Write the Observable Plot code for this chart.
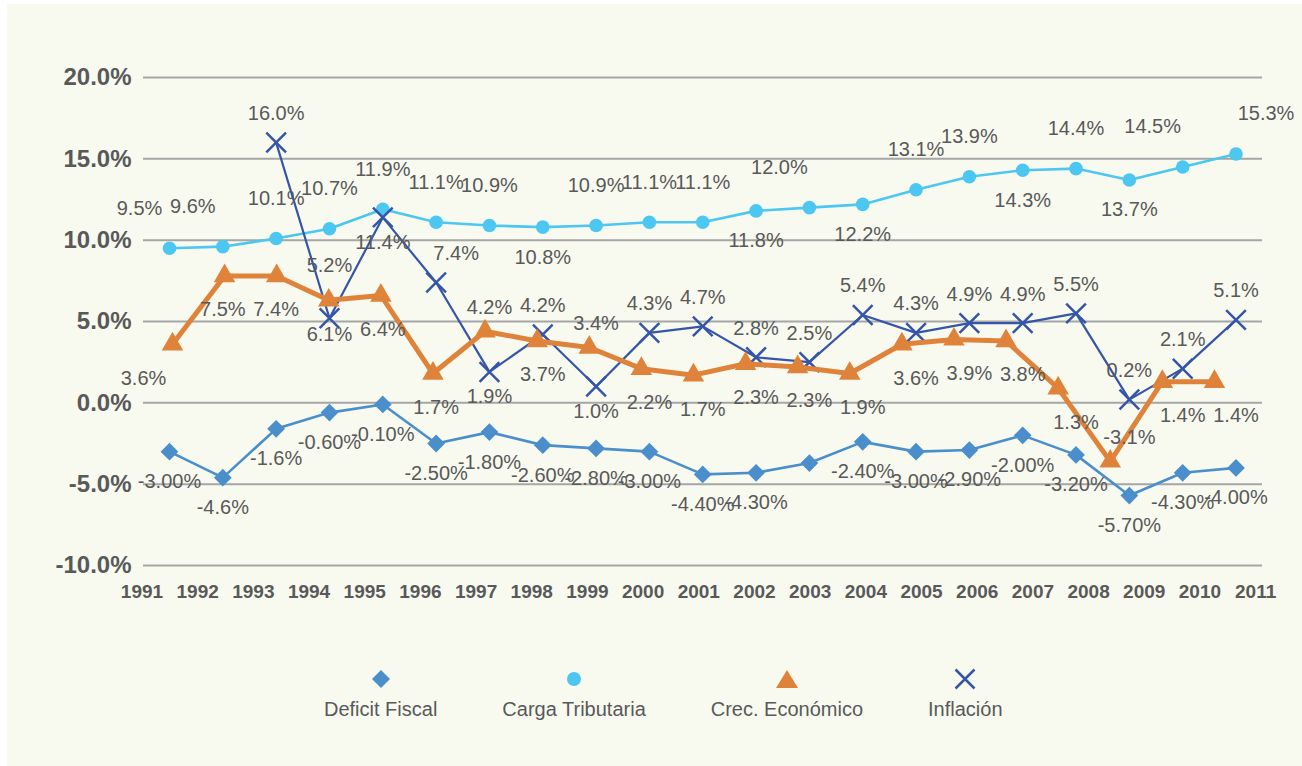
<!DOCTYPE html>
<html>
<head>
<meta charset="utf-8">
<script src="https://cdn.jsdelivr.net/npm/d3@7"></script>
<script src="https://cdn.jsdelivr.net/npm/@observablehq/plot@0.6"></script>
<style>
  html, body { margin: 0; padding: 0; background: #ffffff; }
  #bg { position: absolute; left: 7px; top: 4px; width: 1295px; height: 762px; background: #f8faf0; }
  #chart { position: absolute; left: 0; top: 0; }
  #legend { position: absolute; left: 324px; top: 666px; display: flex; gap: 65px;
            font-family: "Liberation Sans", Arial, sans-serif; font-size: 20px; color: #595959; }
  .item { display: flex; flex-direction: column; align-items: center; }
  .item svg { display: block; }
  .item span { display: block; margin-top: 5px; line-height: 24px; white-space: nowrap; }
</style>
</head>
<body>
<div id="bg"></div>
<div id="chart"></div>
<div id="legend"></div>
<script>
// ---------------- data ----------------
const yearLabels = ["1991","1992","1993","1994","1995","1996","1997","1998","1999","2000",
                    "2001","2002","2003","2004","2005","2006","2007","2008","2009","2010","2011"];
const yTicks = [-10, -5, 0, 5, 10, 15, 20];
const seriesNames = ["Deficit Fiscal", "Carga Tributaria", "Crec. Económico", "Inflación"];

const deficitFiscal = [-3.0, -4.6, -1.6, -0.6, -0.1, -2.5, -1.8, -2.6, -2.8, -3.0,
                       -4.4, -4.3, -3.7, -2.4, -3.0, -2.9, -2.0, -3.2, -5.7, -4.3, -4.0];
const deficitLabels = ["-3.00%","-4.6%","-1.6%","-0.60%","-0.10%","-2.50%","-1.80%","-2.60%","-2.80%","-3.00%",
                       "-4.40%","-4.30%","","-2.40%","-3.00%","-2.90%","-2.00%","-3.20%","-5.70%","-4.30%","-4.00%"];

const cargaTributaria = [9.5, 9.6, 10.1, 10.7, 11.9, 11.1, 10.9, 10.8, 10.9, 11.1,
                         11.1, 11.8, 12.0, 12.2, 13.1, 13.9, 14.3, 14.4, 13.7, 14.5, 15.3];

const crecEconomico = [3.6, 7.8, 7.8, 6.3, 6.6, 1.8, 4.4, 3.8, 3.4, 2.1,
                       1.7, 2.4, 2.2, 1.8, 3.6, 3.9, 3.8, 0.9, -3.6, 1.3, 1.3];
const crecLabels = ["3.6%","7.5%","7.4%","6.1%","6.4%","1.7%","4.2%","3.7%","3.4%","2.2%",
                    "1.7%","2.3%","2.3%","1.9%","3.6%","3.9%","3.8%","1.3%","-3.1%","1.4%","1.4%"];

const inflacion = [null, null, 16.0, 5.2, 11.4, 7.4, 1.9, 4.2, 1.0, 4.3,
                   4.7, 2.8, 2.5, 5.4, 4.3, 4.9, 4.9, 5.5, 0.2, 2.1, 5.1];

// ---------------- layout / style ----------------
const COLORS = {deficit: "#4a8fcc", carga: "#4cc7f1", crec: "#e0833a", infl: "#3556a8"};
const TEXT = "#595959";
const FONT = "'Liberation Sans', Arial, Helvetica, sans-serif";
// year tick labels sit on a slightly wider grid than the points
const yearTickStart = -0.516, yearTickStep = 1.0442;
// the growth series is drawn on a slightly narrower grid
const crecShift = 0.056, crecStep = 0.977;

// label placement codes (layout only)
const placeCarga = "NW NW N N N N N S N N N S NW S N N S N S NW NE".split(" ");
const placeDeficit = yearLabels.map(() => "S");
const placeInfl = "- - N N2 S NE S N S N N N N N N N N N N N N".split(" ");
const placeCrec = "SW S S S S S N S N S S S S S S S S S N S S".split(" ");

const offCarga = {dx: 30, up: -40, down: 30};
const offDeficit = {dx: 0, up: -30, down: 30};
const offInfl = {dx: 20, up: -29, down: 25};
const offCrec = {dx: 26, up: -24, down: 34};

function offset(code, o) {
  switch (code) {
    case "N": return [0, o.up];
    case "N2": return [0, o.up * 1.8];
    case "S": return [0, o.down];
    case "NE": return [o.dx, o.up];
    case "NW": return [-o.dx, o.up];
    case "SE": return [o.dx, o.down];
    case "SW": return [-o.dx, o.down];
    default: return [0, 0];
  }
}

const fmt1 = v => v.toFixed(1) + "%";

const deficitRows = deficitFiscal.map((v, i) => ({x: i, lx: i, v, label: deficitLabels[i], place: placeDeficit[i]}));
const cargaRows = cargaTributaria.map((v, i) => ({x: i, lx: i, v, label: fmt1(v), place: placeCarga[i]}));
const inflRows = inflacion.map((v, i) => ({x: i, lx: i, v, label: v == null ? "" : fmt1(v), place: placeInfl[i]}))
                          .filter(d => d.v != null);
const crecRows = crecEconomico.map((v, i) => ({x: crecShift + i * crecStep, lx: i, v, label: crecLabels[i], place: placeCrec[i]}));

function labelMarks(rows, o) {
  const r = rows.filter(d => d.label !== "");
  const codes = [...new Set(r.map(d => d.place))];
  return codes.map(c => {
    const [dx, dy] = offset(c, o);
    return Plot.text(r.filter(d => d.place === c), {
      x: "lx", y: "v", text: "label", dx, dy,
      fill: TEXT, fontSize: 20, fontFamily: FONT
    });
  });
}

const chart = Plot.plot({
  width: 1302,
  height: 640,
  marginLeft: 143,
  marginRight: 40,
  marginTop: 77,
  marginBottom: 75,
  style: {background: "transparent", fontFamily: FONT},
  x: {type: "linear", domain: [0, 20], range: [169, 1235.5], axis: null},
  y: {domain: [-10, 20], axis: null},
  marks: [
    Plot.ruleY(yTicks, {stroke: "#a6a6a6", strokeWidth: 2}),
    Plot.text(yTicks, {y: d => d, text: d => d.toFixed(1) + "%", frameAnchor: "left", textAnchor: "end",
                       dx: -12, fontSize: 24, fontWeight: "bold", fill: TEXT}),
    Plot.text(yearLabels, {x: (d, i) => yearTickStart + i * yearTickStep, text: d => d, frameAnchor: "bottom",
                           dy: 32, fontSize: 19, fontWeight: "bold", fill: TEXT}),

    Plot.line(deficitRows, {x: "x", y: "v", stroke: COLORS.deficit, strokeWidth: 2.6}),
    Plot.dot(deficitRows, {x: "x", y: "v", symbol: "diamond2", r: 8, fill: COLORS.deficit, stroke: "none"}),

    Plot.line(cargaRows, {x: "x", y: "v", stroke: COLORS.carga, strokeWidth: 2.6}),
    Plot.dot(cargaRows, {x: "x", y: "v", symbol: "circle", r: 6.8, fill: COLORS.carga, stroke: "none"}),

    Plot.line(inflRows, {x: "x", y: "v", stroke: COLORS.infl, strokeWidth: 2.2}),
    Plot.dot(inflRows, {x: "x", y: "v", symbol: "times", r: 9, stroke: COLORS.infl, strokeWidth: 2.5, fill: "none"}),

    Plot.line(crecRows, {x: "x", y: "v", stroke: COLORS.crec, strokeWidth: 5, strokeLinejoin: "round"}),
    Plot.dot(crecRows, {x: "x", y: "v", symbol: "triangle", r: 8, fill: COLORS.crec, stroke: "none"}),

    ...labelMarks(cargaRows, offCarga),
    ...labelMarks(deficitRows, offDeficit),
    ...labelMarks(inflRows, offInfl),
    ...labelMarks(crecRows, offCrec)
  ]
});
document.getElementById("chart").appendChild(chart);

// ---------------- legend ----------------
const legendSymbols = [
  `<path d="M11,4 L20,13 L11,22 L2,13Z" fill="${COLORS.deficit}"/>`,
  `<circle cx="11" cy="13" r="7" fill="${COLORS.carga}"/>`,
  `<path d="M11,4 L22,22 L0,22Z" fill="${COLORS.crec}"/>`,
  `<path d="M1.5,3.5 L20.5,22.5 M1.5,22.5 L20.5,3.5" stroke="${COLORS.infl}" stroke-width="2.5" fill="none"/>`
];
const legend = document.getElementById("legend");
seriesNames.forEach((name, i) => {
  const item = document.createElement("div");
  item.className = "item";
  item.innerHTML = `<svg width="22" height="26" viewBox="0 0 22 26">${legendSymbols[i]}</svg><span>${name}</span>`;
  legend.appendChild(item);
});
</script>
</body>
</html>
